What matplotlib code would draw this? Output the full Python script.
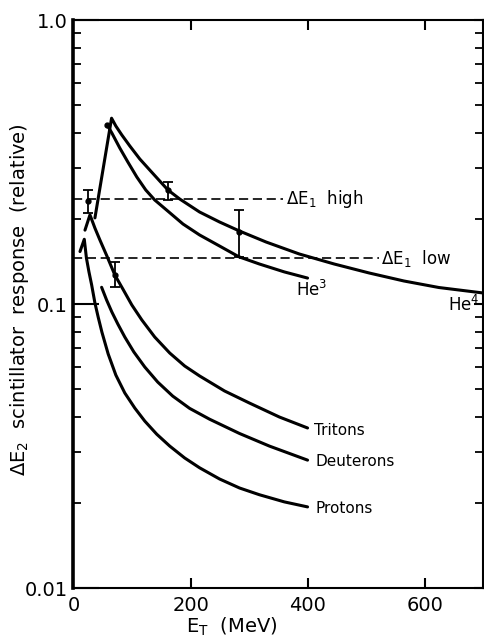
import matplotlib
matplotlib.use('Agg')
import matplotlib.pyplot as plt
from matplotlib.ticker import LogLocator, NullFormatter

# values: E_T in MeV, response (relative)
he4_e = [36.6, 65.0, 72.3, 82.5, 96.2, 113.2, 130.2, 147.2, 161.3, 181.3, 215.3, 249.4, 283.4,
         328.8, 385.5, 445.1, 504.7, 564.2, 623.8, 700]
he4_r = [0.201, 0.451, 0.4233, 0.3937, 0.360, 0.324, 0.2963, 0.2711, 0.252, 0.2343, 0.2108, 0.1944, 0.1807,
         0.1653, 0.150, 0.1383, 0.1286, 0.1205, 0.1143, 0.1093]

he3_e = [57.5, 65.5, 79.1, 92.8, 108.1, 123.4, 138.7, 160.8, 186.9, 215.3, 249.4, 282.2, 317.4, 360.0, 399.6]
he3_r = [0.427, 0.400, 0.354, 0.3162, 0.280, 0.252, 0.2324, 0.2126, 0.1913, 0.175, 0.160, 0.1467, 0.1383, 0.1297, 0.1234]

tri_e = [19.6, 28.1, 36.6, 45.1, 57.0, 70.6, 84.3, 99.6, 116.6, 138.7, 164.3, 189.8, 215.3, 257.9, 300.4, 351.5, 399.6]
tri_r = [0.182, 0.206, 0.185, 0.168, 0.1476, 0.1265, 0.1129, 0.0992, 0.0879, 0.0765, 0.0672, 0.0605, 0.0558,
         0.0494, 0.0448, 0.040, 0.0366]

deu_e = [48.0, 56.5, 65.5, 75.7, 87.6, 103.0, 121.7, 143.8, 169.4, 198.3, 232.3, 283.4, 334.5, 399.6]
deu_r = [0.1145, 0.1033, 0.0937, 0.0850, 0.0765, 0.0678, 0.060, 0.0531, 0.0474, 0.0429, 0.0393, 0.0350, 0.0316, 0.0282]

pro_e = [11.1, 18.4, 22.1, 26.4, 31.0, 36.6, 42.2, 48.5, 59.2, 72.3, 87.6, 104.7, 121.7, 142.1, 164.3,
         189.8, 215.3, 249.4, 283.4, 317.4, 360.0, 399.6]
pro_r = [0.153, 0.169, 0.145, 0.1297, 0.1167, 0.1008, 0.0898, 0.0796, 0.0667, 0.0562, 0.0486, 0.0430, 0.0387,
         0.0348, 0.0316, 0.0287, 0.0265, 0.0242, 0.0225, 0.0213, 0.0201, 0.0193]

# measured points with error bars
pt_e = [25.2, 70.6, 161.3, 282.2]
pt_r = [0.2305, 0.1265, 0.252, 0.180]
pt_lo = [0.2086, 0.115, 0.2324, 0.1467]
pt_hi = [0.252, 0.141, 0.2695, 0.2143]

# Delta E1 thresholds
thr_high = 0.234
thr_high_end = 357
thr_low = 0.145
thr_low_end = 522

fig = plt.figure(figsize=(4.85, 6.40), dpi=100)
ax = fig.add_axes([73.5 / 485, 52 / 640, 410 / 485, 568 / 640])
ax.set_yscale('log')
ax.set_xlim(0, 700)
ax.set_ylim(0.01, 1.0)

lw = 2.2
for e, r in [(he4_e, he4_r), (he3_e, he3_r), (tri_e, tri_r), (deu_e, deu_r), (pro_e, pro_r)]:
    ax.plot(e, r, color='black', lw=lw, solid_capstyle='round', solid_joinstyle='round')

dash = (0, (5.5, 2.8))
ax.plot([0, thr_high_end], [thr_high, thr_high], color='black', lw=1.2, ls=dash)
ax.plot([0, thr_low_end], [thr_low, thr_low], color='black', lw=1.2, ls=dash)

yerr = [[r - lo for r, lo in zip(pt_r, pt_lo)], [hi - r for r, hi in zip(pt_r, pt_hi)]]
ax.errorbar(pt_e, pt_r, yerr=yerr, fmt='o', ms=3.5, color='black',
            elinewidth=1.3, capsize=3.5, capthick=1.3)
ax.plot([he3_e[0]], [he3_r[0]], 'o', ms=3.5, color='black')

fs = 11
ax.text(411, 0.036, 'Tritons', fontsize=fs, ha='left', va='center')
ax.text(413, 0.028, 'Deuterons', fontsize=fs, ha='left', va='center')
ax.text(414, 0.019, 'Protons', fontsize=fs, ha='left', va='center')
ax.text(362, thr_high, r'ΔE$_1$  high', fontsize=12, ha='left', va='center')
ax.text(525, thr_low, r'ΔE$_1$  low', fontsize=12, ha='left', va='center')
ax.text(380, 0.112, r'He$^3$', fontsize=12, ha='left', va='center')
ax.text(639, 0.0995, r'He$^4$', fontsize=12, ha='left', va='center')

# axes, ticks
ax.set_xticks([0, 200, 400, 600])
ax.set_yticks([0.01, 0.1, 1.0], ['0.01', '0.1', '1.0'])
ax.yaxis.set_minor_locator(LogLocator(base=10, subs=range(2, 10)))
ax.yaxis.set_minor_formatter(NullFormatter())
ax.tick_params(axis='x', direction='in', length=7, width=1.5, top=True, pad=6, labelsize=14)
ax.tick_params(axis='y', which='major', direction='in', length=19, width=1.5,
               right=False, pad=4, labelsize=14)
ax.tick_params(axis='y', which='minor', direction='in', length=6, width=1.3, right=True)
for side in ['top', 'bottom', 'right']:
    ax.spines[side].set_linewidth(1.5)
ax.spines['left'].set_linewidth(2.6)

sec = ax.secondary_yaxis('right')
sec.set_yticks([0.01, 0.1, 1.0])
sec.yaxis.set_major_formatter(NullFormatter())
sec.yaxis.set_minor_formatter(NullFormatter())
sec.tick_params(which='major', direction='in', length=7, width=1.5)
sec.tick_params(which='minor', length=0)
sec.spines['right'].set_linewidth(1.5)

fig.text(20 / 485, 1 - 300 / 640, r'ΔE$_2$  scintillator  response  (relative)',
         rotation=90, ha='center', va='center', fontsize=14)
fig.text(232 / 485, 1 - 627 / 640, r'E$_\mathrm{T}$  (MeV)', ha='center', va='center', fontsize=14)

fig.savefig('out.png', dpi=100)
